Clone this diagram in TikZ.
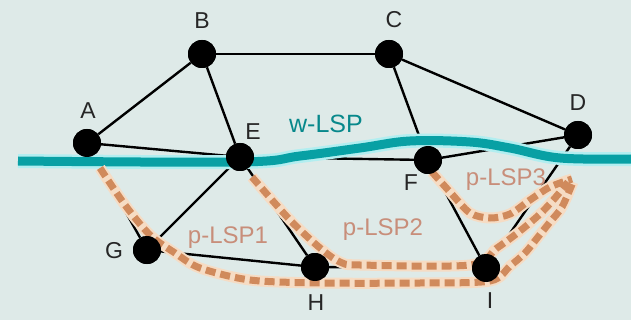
\documentclass[tikz,border=0pt]{standalone}
\usepackage{fontspec}
\setmainfont{Liberation Sans}
\definecolor{bgcol}{RGB}{222,234,232}
\definecolor{tealline}{RGB}{8,160,164}
\definecolor{tealhalo}{RGB}{178,238,240}
\definecolor{plspcol}{RGB}{208,138,92}
\definecolor{plspglowcol}{RGB}{246,220,196}
\definecolor{plsptextcol}{RGB}{200,142,122}
\begin{document}
\begin{tikzpicture}[x=1pt,y=-1pt,
  vertex/.style={circle,fill=black,minimum size=28pt,inner sep=0pt},
  vlabel/.style={font=\fontsize{23}{23}\selectfont,text=black!85,inner sep=0pt},
  edge/.style={line width=2.4pt,black},
  wlsp/.style={line width=9pt,color=tealline},
  wlsphalo/.style={line width=14pt,color=tealhalo},
  plspdash/.style={line width=7pt,color=plspcol,dash pattern=on 10pt off 5pt},
  plspglow/.style={line width=11pt,color=plspglowcol},
  plsptext/.style={font=\fontsize{24}{24}\selectfont,text=plsptextcol,inner sep=0pt}]

% background and page size
\fill[bgcol] (0,0) rectangle (631,320);
\useasboundingbox (0,0) rectangle (631,320);

% routers
\node[vertex] (A) at (87,143) {};
\node[vertex] (B) at (202,54) {};
\node[vertex] (C) at (389,54) {};
\node[vertex] (D) at (578,135) {};
\node[vertex] (E) at (240,157) {};
\node[vertex] (F) at (428,160) {};
\node[vertex] (G) at (147,250) {};
\node[vertex] (H) at (315,267) {};
\node[vertex] (I) at (486,268) {};

% links
\draw[edge] (A) -- (B);
\draw[edge] (A) -- (E);
\draw[edge] (B) -- (E);
\draw[edge] (B) -- (C);
\draw[edge] (C) -- (F);
\draw[edge] (C) -- (D);
\draw[edge] (E) -- (F);
\draw[edge] (F) -- (D);
\draw[edge] (A) -- (G);
\draw[edge] (E) -- (G);
\draw[edge] (E) -- (H);
\draw[edge] (G) -- (H);
\draw[edge] (H) -- (I);
\draw[edge] (F) -- (I);
\draw[edge] (D) -- (I);

% router names
\node[vlabel] (lA) at (88,111) {A};
\node[vlabel] (lB) at (202,21) {B};
\node[vlabel] (lC) at (394,20) {C};
\node[vlabel] (lD) at (578,103) {D};
\node[vlabel] (lE) at (253,132) {E};
\node[vlabel] (lF) at (411,183) {F};
\node[vlabel] (lG) at (114,251) {G};
\node[vlabel] (lH) at (316,303) {H};
\node[vlabel] (lI) at (490,301) {I};

% protection LSP names
\node[plsptext] (t1) at (228,238) {p-LSP1};
\node[plsptext] (t2) at (383,230) {p-LSP2};
\node[plsptext] (t3) at (506,180) {p-LSP3};

% working LSP
\draw[wlsphalo] plot[smooth,tension=0.6] coordinates {(18,161) (240,162) (300,156) (360,148) (410,141) (470,142) (510,148) (560,158) (631,159)};
\draw[wlsp] plot[smooth,tension=0.6] coordinates {(18,161) (240,162) (300,156) (360,148) (410,141) (470,142) (510,148) (560,158) (631,159)};
\node[font=\fontsize{25}{25}\selectfont,text=tealline!85!black,inner sep=0pt] (tw) at (326,124) {w-LSP};

% protection LSPs
\foreach \s in {plspglow,plspdash}{
  \draw[\s] plot[smooth,tension=0.5] coordinates {(100,168) (125,205) (150,235) (175,253) (200,268) (250,280) (320,283) (420,283) (490,281) (510,266) (525,253) (538,237) (550,222) (562,207) (573,182)};
  \draw[\s] plot[smooth,tension=0.5] coordinates {(252,177) (290,220) (320,248) (340,262) (360,265) (470,265) (497,248) (520,231) (540,214) (555,198) (568,182)};
  \draw[\s] plot[smooth,tension=0.5] coordinates {(432,172) (450,192) (470,213) (490,218) (510,214) (530,200) (550,187) (572,179)};
}

% routers drawn again on top of the paths
\foreach \n in {A,B,C,D,E,F,G,H,I}{
  \fill[black] (\n) circle (14pt);
}
\end{tikzpicture}
\end{document}
